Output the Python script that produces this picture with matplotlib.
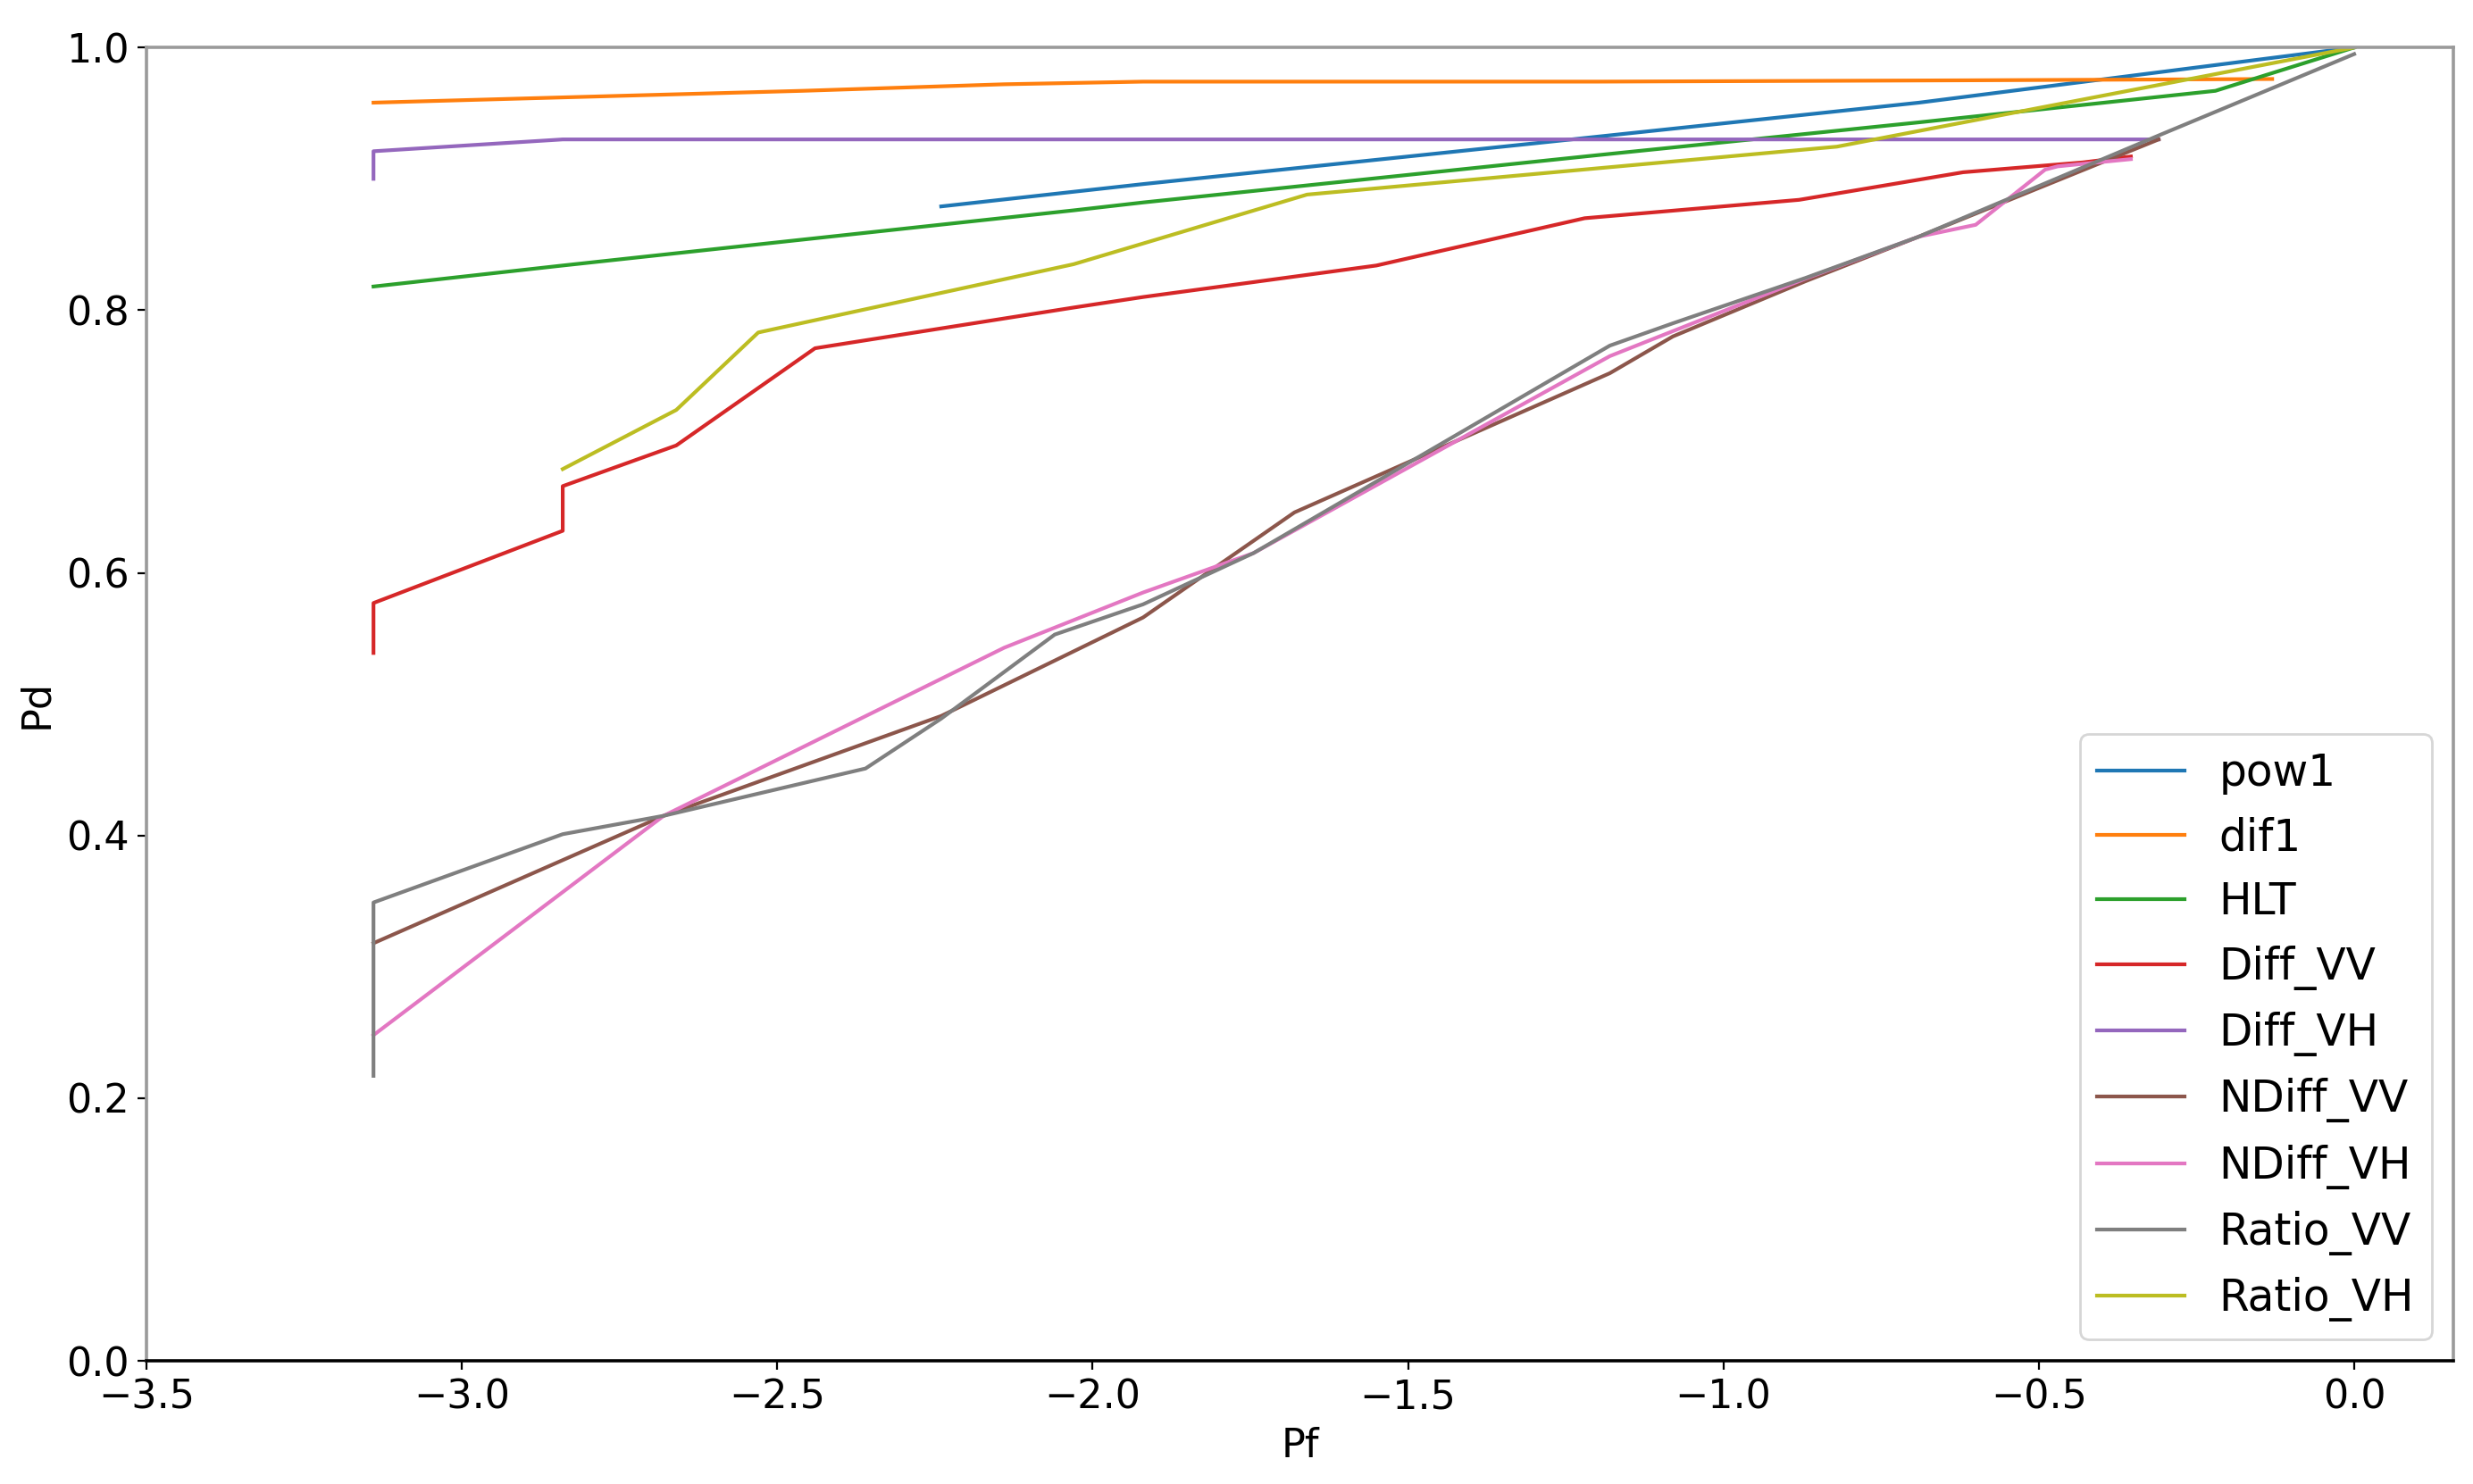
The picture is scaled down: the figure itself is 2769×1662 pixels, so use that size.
import numpy as np
import matplotlib
matplotlib.use('Agg')
import matplotlib.pyplot as plt

# ROC curves (x = log10 Pf, y = Pd)
pow1_x = [-2.24, -1.92, -1.30, -0.69, 0.0]
pow1_y = [0.879, 0.896, 0.927, 0.958, 1.0]

dif1_x = [-3.14, -2.84, -2.46, -2.14, -1.92, -1.20, -0.62, -0.13]
dif1_y = [0.958, 0.962, 0.967, 0.972, 0.974, 0.974, 0.975, 0.976]

hlt_x = [-3.14, -2.84, -2.03, -1.92, -1.20, -0.69, -0.22, 0.0]
hlt_y = [0.818, 0.834, 0.876, 0.882, 0.918, 0.943, 0.967, 1.0]

diff_vv_x = [-3.14, -3.14, -2.84, -2.84, -2.66, -2.44, -2.03, -1.92, -1.55,
             -1.22, -0.88, -0.62, -0.43, -0.354]
diff_vv_y = [0.539, 0.577, 0.632, 0.666, 0.697, 0.771, 0.802, 0.810, 0.834,
             0.870, 0.884, 0.905, 0.9125, 0.917]

diff_vh_x = [-3.14, -3.14, -2.84, -0.31]
diff_vh_y = [0.900, 0.921, 0.930, 0.930]

ndiff_vv_x = [-3.14, -2.68, -2.24, -1.92, -1.68, -1.18, -1.08, -0.87, -0.69, -0.31]
ndiff_vv_y = [0.318, 0.415, 0.491, 0.566, 0.646, 0.752, 0.780, 0.822, 0.856, 0.930]

ndiff_vh_x = [-3.14, -2.68, -2.14, -1.92, -1.745, -1.18, -0.87, -0.69, -0.60,
              -0.49, -0.47, -0.354]
ndiff_vh_y = [0.248, 0.415, 0.543, 0.585, 0.615, 0.765, 0.824, 0.856, 0.865,
              0.907, 0.9095, 0.915]

ratio_vv_x = [-3.14, -3.14, -2.84, -2.68, -2.36, -2.24, -2.06, -1.92, -1.745,
              -1.18, -1.08, -0.87, -0.69, -0.31, 0.0]
ratio_vv_y = [0.217, 0.349, 0.401, 0.415, 0.451, 0.489, 0.553, 0.576, 0.615,
              0.773, 0.790, 0.8245, 0.856, 0.933, 0.995]

ratio_vh_x = [-2.84, -2.66, -2.53, -2.03, -1.66, -0.82, 0.0]
ratio_vh_y = [0.679, 0.724, 0.783, 0.835, 0.888, 0.9245, 1.0]

labels = ['pow1', 'dif1', 'HLT', 'Diff_VV', 'Diff_VH', 'NDiff_VV', 'NDiff_VH',
          'Ratio_VV', 'Ratio_VH']
curves = [(pow1_x, pow1_y), (dif1_x, dif1_y), (hlt_x, hlt_y),
          (diff_vv_x, diff_vv_y), (diff_vh_x, diff_vh_y),
          (ndiff_vv_x, ndiff_vv_y), (ndiff_vh_x, ndiff_vh_y),
          (ratio_vv_x, ratio_vv_y), (ratio_vh_x, ratio_vh_y)]

plt.rcParams['font.size'] = 16

fig = plt.figure(figsize=(13.845, 8.31), dpi=200)
ax = fig.add_axes([0.0592, 0.083, 0.9328, 0.885])

for (x, y), lab in zip(curves, labels):
    ax.plot(x, y, label=lab, linewidth=1.5)

ax.set_xlim(-3.5, 0.157)
ax.set_ylim(0.0, 1.0)
ax.set_xticks(np.arange(-3.5, 0.01, 0.5))
ax.set_yticks(np.arange(0.0, 1.01, 0.2))
ax.set_xlabel('Pf')
ax.set_ylabel('Pd')

for side in ['top', 'right', 'left']:
    ax.spines[side].set_color('#9a9a9a')
    ax.spines[side].set_linewidth(1.3)
ax.spines['bottom'].set_linewidth(1.3)

ax.legend(loc='lower right', fontsize=17.5)

fig.savefig('out.png', dpi=200)
